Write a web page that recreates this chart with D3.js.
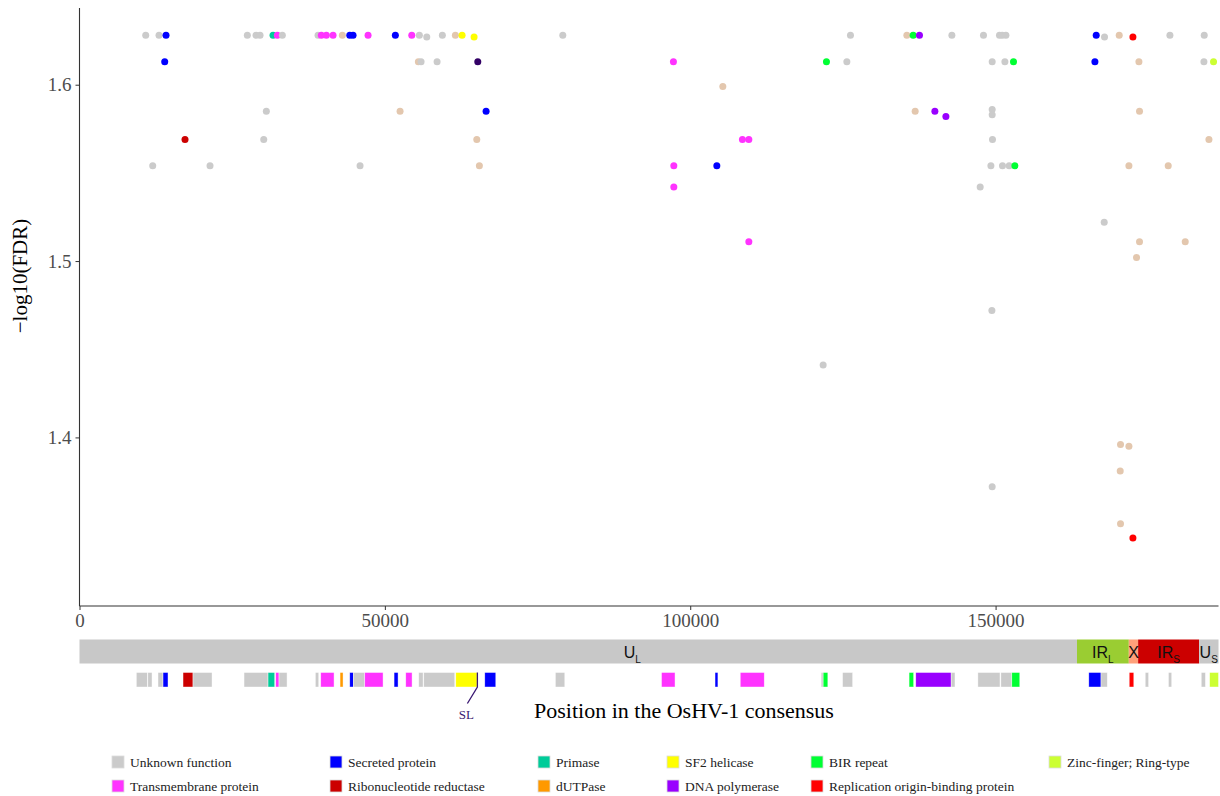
<!DOCTYPE html>
<html>
<head>
<meta charset="utf-8">
<script src="https://cdn.jsdelivr.net/npm/d3@7"></script>
<style>
  body { margin: 0; background: #fff; }
  svg { display: block; }
</style>
</head>
<body>
<svg id="chart" width="1220" height="796"></svg>
<script>
// ---- data -----------------------------------------------------------------
const genomeLength = 186500;
const xTicks = [0, 50000, 100000, 150000];
const yTicks = [1.4, 1.5, 1.6];

// functional classes: key, legend label, colour
const classKeys = ["unknown", "secreted", "primase", "helicase", "bir", "zinc",
                   "transmembrane", "ribo", "dutpase", "polymerase", "origin"];
const classLabels = ["Unknown function", "Secreted protein", "Primase", "SF2 helicase", "BIR repeat",
                     "Zinc-finger; Ring-type", "Transmembrane protein", "Ribonucleotide reductase",
                     "dUTPase", "DNA polymerase", "Replication origin-binding protein"];
const classColors = ["#cbcbcb", "#0000ff", "#00cc99", "#ffff00", "#00ff33", "#ccff33",
                     "#ff33ff", "#cc0000", "#ff9900", "#9900ff", "#ff0000"];

// significant positions: [position (bp), -log10(FDR)]
const unknownDots = [
  [10842, 1.628], [13020, 1.628], [27481, 1.628], [28906, 1.628], [29561, 1.628], [33213, 1.628],
  [39060, 1.628], [55650, 1.628], [56862, 1.627], [59417, 1.628], [79135, 1.628], [126237, 1.628],
  [142843, 1.628], [148018, 1.628], [150639, 1.628], [151081, 1.628], [151687, 1.628], [167835, 1.627],
  [178546, 1.628], [184163, 1.628],
  [55928, 1.613], [58549, 1.613], [125647, 1.613], [149443, 1.613], [151523, 1.613], [184114, 1.613],
  [30593, 1.585], [149443, 1.586], [149443, 1.583],
  [30167, 1.569], [149492, 1.569],
  [11988, 1.554], [21372, 1.554], [45938, 1.554], [149230, 1.554], [151130, 1.554], [152227, 1.554],
  [147478, 1.542], [167786, 1.522], [149394, 1.472], [121765, 1.441], [149443, 1.372]
];
const secretedDots = [
  [14166, 1.628], [44251, 1.628], [44792, 1.628], [51720, 1.628], [166476, 1.628],
  [13953, 1.613], [166263, 1.613], [66574, 1.585], [104356, 1.554]
];
const primaseDots = [[31690, 1.628]];
const helicaseDots = [[62643, 1.628], [64608, 1.627]];
const birDots = [[136505, 1.628], [122306, 1.613], [152932, 1.613], [153161, 1.554]];
const zincDots = [[185686, 1.613]];
const transmembraneDots = [
  [32394, 1.628], [39600, 1.628], [40419, 1.628], [41516, 1.628], [47249, 1.628], [54405, 1.628],
  [97249, 1.613], [108549, 1.569], [109597, 1.569], [97314, 1.554], [97314, 1.542], [109597, 1.511]
];
const riboDots = [[17278, 1.569]];
const dutpaseDots = [];
const polymeraseDots = [[137537, 1.628], [140059, 1.585], [141861, 1.582]];
const originDots = [[172486, 1.627], [172486, 1.343]];
const intergenicDots = [
  [43040, 1.628], [61546, 1.628], [135473, 1.628], [170242, 1.628],
  [55486, 1.613], [173469, 1.613], [105339, 1.599],
  [52489, 1.585], [136833, 1.585], [173567, 1.585],
  [65051, 1.569], [184933, 1.569],
  [65476, 1.554], [171831, 1.554], [178267, 1.554],
  [173567, 1.511], [181052, 1.511], [173076, 1.502],
  [170455, 1.396], [171831, 1.395], [170406, 1.381], [170455, 1.351]
];
const slDots = [[65214, 1.613]];

// genome segments: [start, end, label, subscript, colour]
const segments = [
  [0, 163330, "U", "L", "#c8c8c8"],
  [163330, 171815, "IR", "L", "#9acd32"],
  [171815, 173340, "X", "", "#ffa07a"],
  [173340, 183330, "IR", "S", "#cc0000"],
  [183330, 186500, "U", "S", "#c8c8c8"]
];
const segmentLabelPos = [90500, 167570, 172580, 178330, 184900];

// annotated ORFs: [start, end, class]
const genes = [
  [9302, 11104, "unknown"], [11186, 11874, "unknown"], [12856, 13675, "unknown"], [13675, 14494, "secreted"],
  [16951, 18588, "ribo"], [18588, 21700, "unknown"], [26941, 30871, "unknown"], [30871, 31968, "primase"],
  [32132, 32672, "transmembrane"], [32672, 33983, "unknown"], [38618, 39175, "unknown"], [39502, 41680, "transmembrane"],
  [42663, 43154, "dutpase"], [44251, 44841, "secreted"], [44841, 46708, "unknown"], [46708, 49705, "transmembrane"],
  [51507, 52162, "secreted"], [53423, 54455, "transmembrane"], [55552, 56256, "unknown"], [56371, 61448, "unknown"],
  [61612, 65100, "helicase"], [66361, 68163, "secreted"], [77923, 79463, "unknown"], [95300, 97511, "transmembrane"],
  [104061, 104536, "secreted"], [108189, 112119, "transmembrane"], [121438, 121766, "unknown"], [121766, 122535, "bir"],
  [124943, 126597, "unknown"], [135834, 136587, "bir"], [136931, 142729, "polymerase"], [142729, 143351, "unknown"],
  [147101, 150721, "unknown"], [150868, 152653, "unknown"], [152653, 153963, "bir"], [165264, 167262, "secreted"],
  [167262, 168294, "unknown"], [171880, 172633, "origin"], [174500, 175057, "unknown"], [178300, 178841, "unknown"],
  [183672, 184360, "unknown"], [185048, 186500, "zinc"]
];
const slPosition = 65150;

// ---- layout ---------------------------------------------------------------
const svg = d3.select("#chart");
const serif = "'Liberation Serif', 'Times New Roman', serif";
const sans = "'Liberation Sans', Arial, sans-serif";
const plotLeft = 79.5, plotRight = 1218.5, plotTop = 8, plotBottom = 606;

const x = d3.scaleLinear().domain([0, genomeLength]).range([plotLeft, plotRight]);
const y = d3.scaleLinear().domain([1.3044, 1.6435]).range([plotBottom, plotTop]);
const color = d3.scaleOrdinal()
  .domain(classKeys.concat(["intergenic", "sl"]))
  .range(classColors.concat(["#e3c7ae", "#330066"]));

// ---- axes -----------------------------------------------------------------
const yAxis = svg.append("g")
  .attr("transform", `translate(${plotLeft},0)`)
  .call(d3.axisLeft(y).tickValues(yTicks).tickFormat(d3.format(".1f")).tickSize(4).tickPadding(4));
const xAxis = svg.append("g")
  .attr("transform", `translate(0,${plotBottom})`)
  .call(d3.axisBottom(x).tickValues(xTicks).tickFormat(d3.format("d")).tickSize(4).tickPadding(4));
[xAxis, yAxis].forEach(g => {
  g.select(".domain").remove();
  g.selectAll(".tick line").attr("stroke", "#333").attr("stroke-width", 1);
  g.selectAll(".tick text").attr("fill", "#4d4d4d").style("font-family", serif).style("font-size", "19px");
});
svg.append("line").attr("x1", plotLeft).attr("x2", plotLeft).attr("y1", plotTop).attr("y2", plotBottom)
  .attr("stroke", "#333").attr("stroke-width", 1.1);
svg.append("line").attr("x1", plotLeft).attr("x2", plotRight).attr("y1", plotBottom).attr("y2", plotBottom)
  .attr("stroke", "#333").attr("stroke-width", 1.1);

svg.append("text")
  .attr("transform", "translate(27,276) rotate(-90)")
  .attr("text-anchor", "middle")
  .style("font-family", serif).style("font-size", "21px").attr("fill", "#000")
  .text("\u2212log10(FDR)");

// ---- points ---------------------------------------------------------------
const groups = {
  unknown: unknownDots, secreted: secretedDots, primase: primaseDots, helicase: helicaseDots,
  bir: birDots, zinc: zincDots, transmembrane: transmembraneDots, ribo: riboDots, dutpase: dutpaseDots,
  polymerase: polymeraseDots, origin: originDots, intergenic: intergenicDots, sl: slDots
};
const points = [];
Object.entries(groups).forEach(([k, arr]) => arr.forEach(d => points.push({ pos: d[0], v: d[1], cls: k })));
points.sort((a, b) => a.pos - b.pos);

svg.append("g").selectAll("circle").data(points).join("circle")
  .attr("cx", d => x(d.pos)).attr("cy", d => y(d.v)).attr("r", 3.5)
  .attr("fill", d => color(d.cls));

// ---- genome map -----------------------------------------------------------
const segTop = 639.5, segH = 24;
const segG = svg.append("g");
segG.selectAll("rect").data(segments).join("rect")
  .attr("x", d => x(d[0])).attr("width", d => x(d[1]) - x(d[0]))
  .attr("y", segTop).attr("height", segH).attr("fill", d => d[4]);
const segText = segG.selectAll("text").data(segments).join("text")
  .attr("x", (d, i) => x(segmentLabelPos[i])).attr("y", segTop + 18)
  .attr("text-anchor", "middle")
  .style("font-family", sans).style("font-size", "16px").attr("fill", "#111");
segText.append("tspan").text(d => d[2]);
segText.append("tspan").attr("dy", 5).style("font-size", "10px").text(d => d[3]);

const geneTop = 672.5, geneH = 14.5;
svg.append("g").selectAll("rect").data(genes).join("rect")
  .attr("x", d => x(d[0])).attr("width", d => Math.max(1, x(d[1]) - x(d[0])))
  .attr("y", geneTop).attr("height", geneH)
  .attr("fill", d => color(d[2]))
  .attr("stroke", "#ffffff").attr("stroke-width", 0.6).attr("stroke-opacity", 0.7);

// SL marker
const slX = x(slPosition);
svg.append("path")
  .attr("d", `M${slX},${geneTop} L${slX},${geneTop + geneH} L${slX - 10},${geneTop + 31}`)
  .attr("fill", "none").attr("stroke", "#3a1872").attr("stroke-width", 1.3);
svg.append("text").attr("x", slX - 11).attr("y", geneTop + 46).attr("text-anchor", "middle")
  .style("font-family", serif).style("font-size", "13px").attr("fill", "#3a1872").text("SL");

svg.append("text").attr("x", 684).attr("y", 718).attr("text-anchor", "middle")
  .style("font-family", serif).style("font-size", "22px").attr("fill", "#000")
  .text("Position in the OsHV-1 consensus");

// ---- legend ---------------------------------------------------------------
const legendCols = [112, 330, 538, 667, 811, 1049];
const legendItems = classKeys.map((k, i) => ({ k, label: classLabels[i] }));
const legendOrder = ["unknown", "secreted", "primase", "helicase", "bir", "zinc",
                     "transmembrane", "ribo", "dutpase", "polymerase", "origin"];
const legend = svg.append("g");
legendOrder.forEach((k, i) => {
  const item = legendItems.find(d => d.k === k);
  const row = i < 6 ? 0 : 1, col = i < 6 ? i : i - 6;
  const gx = legendCols[col], gy = row === 0 ? 756 : 780;
  legend.append("rect").attr("x", gx).attr("y", gy).attr("width", 12).attr("height", 12)
    .attr("fill", color(k)).attr("stroke", "#dddddd").attr("stroke-width", 0.8);
  legend.append("text").attr("x", gx + 18).attr("y", gy + 10.5)
    .style("font-family", serif).style("font-size", "13.5px").attr("fill", "#222").text(item.label);
});
</script>
</body>
</html>
